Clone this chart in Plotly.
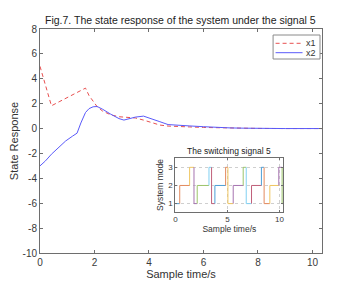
import plotly.graph_objects as go

# State response data
t_x1 = [0, 0.2, 0.42, 0.7, 1.0, 1.2, 1.37, 1.5, 1.67, 1.8, 2.0, 2.1, 2.3, 2.6, 2.9, 3.2, 3.5, 3.8, 4.1, 4.4, 4.7, 5.0, 5.5, 6.0, 6.5, 7.0, 7.5, 8.0, 9.0, 10.35]
x1 = [5.0, 3.45, 1.83, 2.15, 2.49, 2.72, 2.91, 3.06, 3.25, 2.65, 2.0, 1.75, 1.4, 1.1, 0.95, 0.93, 0.85, 0.68, 0.45, 0.28, 0.2, 0.16, 0.13, 0.09, 0.06, 0.04, 0.02, 0.01, 0.0, 0.0]

t_x2 = [0, 0.2, 0.42, 0.7, 0.94, 1.2, 1.36, 1.5, 1.67, 1.8, 1.95, 2.1, 2.3, 2.6, 2.9, 3.08, 3.3, 3.5, 3.8, 4.1, 4.4, 4.7, 5.0, 5.5, 6.0, 6.5, 7.0, 7.5, 8.0, 9.0, 10.35]
x2 = [-3.0, -2.6, -2.06, -1.45, -1.0, -0.6, -0.37, 0.45, 1.29, 1.6, 1.75, 1.77, 1.55, 1.15, 0.8, 0.68, 0.8, 0.92, 1.0, 0.8, 0.55, 0.32, 0.26, 0.21, 0.15, 0.09, 0.05, 0.03, 0.01, 0.0, 0.0]

# Switching signal data
switch_times = [0, 0.42, 1.37, 1.79, 2.1, 3.23, 3.48, 3.8, 4.83, 5.05, 5.56, 6.52, 6.81, 7.32, 8.27, 8.53, 9.08, 9.94, 10.26]
modes = [1, 2, 3, 1, 2, 3, 1, 2, 3, 1, 2, 3, 1, 2, 3, 1, 2, 3, 1]
t_end = 10.38

# tick labels
main_yticks = [-10, -8, -6, -4, -2, 0, 2, 4, 6, 8]
main_xticks = [0, 2, 4, 6, 8, 10]
inset_xticks = [0, 5, 10]
inset_yticks = [1, 2, 3]

series_names = ["x1", "x2"]
series_colors = ["rgb(232,80,80)", "rgb(90,90,250)"]
series_dash = ["4px,3px", "solid"]
seg_colors = ["#4d9fd6", "#e38a5e", "#f0c660", "#a673b0", "#9cc46a", "#80d0f2", "#c0607a"]

title_text = "Fig.7. The state response of the system under the signal 5"
inset_title = "The switching signal 5"
xlabel = "Sample time/s"
ylabel = "State Response"
inset_ylabel = "System mode"

FONT = "Liberation Sans, Arial, sans-serif"
AX = "#6e6e6e"
TXT = "#3a3a3a"

W, H = 347, 284
ML, MR, MT, MB = 39.5, 25, 29, 31
PW, PH = W - ML - MR, H - MT - MB


def px_x(p):  # pixel -> paper x
    return (p - ML) / PW


def px_y(p):  # pixel -> paper y
    return (H - MB - p) / PH


fig = go.Figure()
fig.add_trace(go.Scatter(x=t_x1, y=x1, mode="lines", name=series_names[0], showlegend=False,
                         line=dict(color=series_colors[0], width=1, dash=series_dash[0])))
fig.add_trace(go.Scatter(x=t_x2, y=x2, mode="lines", name=series_names[1], showlegend=False,
                         line=dict(color=series_colors[1], width=1, dash=series_dash[1])))

for i in range(len(switch_times)):
    t0 = switch_times[i]
    t1 = switch_times[i + 1] if i + 1 < len(switch_times) else t_end
    prev = modes[i - 1] if i > 0 else modes[i]
    fig.add_trace(go.Scatter(x=[t0, t0, t1], y=[prev, modes[i], modes[i]], mode="lines",
                             xaxis="x2", yaxis="y2", showlegend=False,
                             line=dict(color=seg_colors[i % len(seg_colors)], width=1)))


def lbl(v):
    return str(v)


axis_common = dict(showline=True, linecolor=AX, linewidth=1, mirror="ticks",
                   ticks="inside", ticklen=3, tickcolor=AX, zeroline=False,
                   showgrid=False, automargin=False,
                   tickfont=dict(size=10, color=TXT, family=FONT))
inset_common = dict(showline=True, linecolor=AX, mirror="ticks",
                    ticks="inside", ticklen=2, tickcolor=AX, zeroline=False,
                    showgrid=True, gridcolor="#cfcfcf", griddash="dot", gridwidth=1,
                    automargin=False, tickfont=dict(size=8, color=TXT, family=FONT))

# manual legend box (MATLAB style)
shapes = [dict(type="rect", xref="paper", yref="paper",
               x0=px_x(273), x1=px_x(320), y0=px_y(59), y1=px_y(35),
               line=dict(color="#8a8a8a", width=1), fillcolor="white", layer="above")]
annotations = []
for k, (nm, col, dsh) in enumerate(zip(series_names, series_colors, series_dash)):
    yy = px_y(43.3 + 9.4 * k)
    shapes.append(dict(type="line", xref="paper", yref="paper",
                       x0=px_x(275.5), x1=px_x(302.5), y0=yy, y1=yy,
                       line=dict(color=col, width=1, dash=dsh), layer="above"))
    annotations.append(dict(text=nm, xref="paper", yref="paper", x=px_x(304), y=yy,
                            xanchor="left", yanchor="middle", showarrow=False,
                            font=dict(size=9, color="#333", family=FONT)))

annotations.append(dict(text=inset_title, xref="paper", yref="paper",
                        x=(0.48 + 0.863) / 2, y=0.423, xanchor="center", yanchor="bottom",
                        yshift=0, showarrow=False,
                        font=dict(size=8.5, color="#222", family=FONT)))
# main title as a paper annotation just above the axes box
annotations.append(dict(text=title_text, xref="paper", yref="paper",
                        x=px_x(180.7), y=1, xanchor="center", yanchor="bottom",
                        yshift=1, showarrow=False,
                        font=dict(size=10.5, color="#222", family=FONT)))

fig.update_layout(
    width=W, height=H,
    margin=dict(l=ML, r=MR, t=MT, b=MB, autoexpand=False),
    paper_bgcolor="white", plot_bgcolor="white",
    font=dict(family=FONT, color=TXT),
    showlegend=False,
    xaxis=dict(range=[0, 10.35], tickvals=main_xticks, ticktext=[lbl(v) for v in main_xticks],
               title=dict(text=xlabel, font=dict(size=11, color="#333"), standoff=2),
               **axis_common),
    yaxis=dict(range=[-10, 8], tickvals=main_yticks, ticktext=[lbl(v) for v in main_yticks],
               title=dict(text=ylabel, font=dict(size=11, color="#333"), standoff=1),
               **axis_common),
    xaxis2=dict(domain=[0.48, 0.863], anchor="y2", range=[0, 10.38],
                tickvals=inset_xticks, ticktext=[lbl(v) for v in inset_xticks],
                title=dict(text=xlabel, font=dict(size=8.5, color="#333"), standoff=1),
                **inset_common),
    yaxis2=dict(domain=[0.184, 0.423], anchor="x2", range=[0.55, 3.5],
                tickvals=inset_yticks, ticktext=[lbl(v) for v in inset_yticks],
                title=dict(text=inset_ylabel, font=dict(size=8.5, color="#333"), standoff=3),
                **inset_common),
    shapes=shapes,
    annotations=annotations,
)

fig.write_html("out.html", config={"displayModeBar": False},
               post_script="document.body.style.margin='0';")
